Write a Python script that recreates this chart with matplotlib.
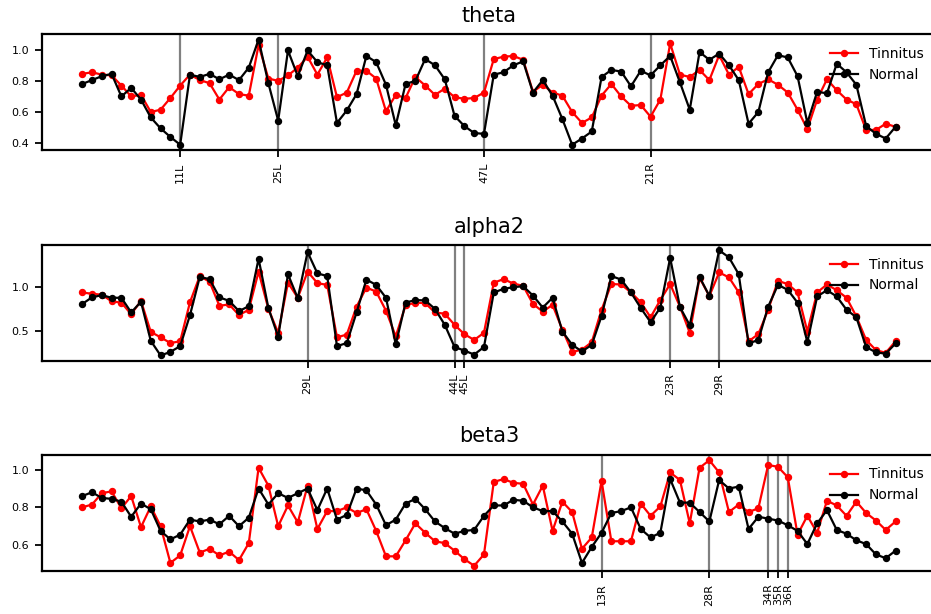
#!/usr/bin/env python

"""
theta / alpha2 / beta3 current density per Brodmann area, tinnitus vs normal
"""

import matplotlib
matplotlib.use('Agg')
import matplotlib.pyplot as plt

# Brodmann areas in sLORETA order, left hemisphere then right
BRODMANN = [1, 2, 3, 4, 5, 6, 7, 8, 9, 10, 11, 13, 17, 18, 19, 20, 21, 22, 23,
            24, 25, 27, 28, 29, 30, 31, 32, 33, 34, 35, 36, 37, 38, 39, 40,
            41, 42, 43, 44, 45, 46, 47]
REGIONS = [f'{b}L' for b in BRODMANN] + [f'{b}R' for b in BRODMANN]

theta_tinnitus = [
    0.845, 0.855, 0.84, 0.835, 0.77, 0.70, 0.71, 0.60, 0.615, 0.69, 0.77,
    0.84, 0.805, 0.785, 0.68, 0.76, 0.715, 0.705, 1.03, 0.815, 0.80, 0.835,
    0.885, 0.955, 0.84, 0.95, 0.695, 0.725, 0.865, 0.865, 0.815, 0.605, 0.71,
    0.69, 0.825, 0.77, 0.71, 0.75, 0.695, 0.685, 0.69, 0.725,
    0.94, 0.955, 0.96, 0.935, 0.73, 0.775, 0.725, 0.705, 0.60, 0.53, 0.565,
    0.705, 0.78, 0.70, 0.64, 0.645, 0.57, 0.68, 1.04, 0.84, 0.825, 0.87,
    0.805, 0.965, 0.84, 0.89, 0.715, 0.78, 0.81, 0.775, 0.725, 0.615, 0.49,
    0.68, 0.81, 0.74, 0.68, 0.65, 0.485, 0.485, 0.525, 0.505]
theta_normal = [
    0.78, 0.805, 0.83, 0.845, 0.70, 0.755, 0.68, 0.565, 0.495, 0.44, 0.39,
    0.84, 0.825, 0.845, 0.81, 0.84, 0.805, 0.885, 1.065, 0.785, 0.545, 0.995,
    0.83, 0.995, 0.92, 0.90, 0.53, 0.61, 0.715, 0.96, 0.92, 0.775, 0.515,
    0.78, 0.80, 0.94, 0.90, 0.81, 0.575, 0.51, 0.465, 0.46,
    0.84, 0.855, 0.90, 0.925, 0.725, 0.805, 0.705, 0.555, 0.39, 0.43, 0.475,
    0.825, 0.87, 0.86, 0.765, 0.865, 0.835, 0.90, 0.96, 0.79, 0.615, 0.985,
    0.935, 0.975, 0.90, 0.805, 0.525, 0.60, 0.855, 0.965, 0.95, 0.83, 0.53,
    0.73, 0.72, 0.91, 0.855, 0.775, 0.51, 0.46, 0.43, 0.505]
theta_marks = ['11L', '25L', '47L', '21R']

alpha2_tinnitus = [
    0.935, 0.92, 0.91, 0.835, 0.82, 0.69, 0.84, 0.49, 0.43, 0.365, 0.385,
    0.825, 1.12, 1.055, 0.785, 0.80, 0.68, 0.74, 1.17, 0.75, 0.48, 1.045,
    0.875, 1.17, 1.04, 1.02, 0.43, 0.46, 0.775, 0.99, 0.945, 0.73, 0.44,
    0.79, 0.82, 0.815, 0.71, 0.695, 0.57, 0.465, 0.40, 0.48,
    1.045, 1.085, 1.035, 1.01, 0.805, 0.72, 0.795, 0.515, 0.265, 0.29, 0.375,
    0.74, 1.03, 1.025, 0.935, 0.825, 0.655, 0.85, 1.03, 0.775, 0.48, 1.10,
    0.895, 1.16, 1.105, 0.935, 0.385, 0.465, 0.74, 1.065, 1.03, 0.935, 0.495,
    0.935, 1.025, 0.96, 0.875, 0.665, 0.40, 0.285, 0.255, 0.385]
alpha2_normal = [
    0.805, 0.88, 0.905, 0.875, 0.875, 0.71, 0.83, 0.39, 0.225, 0.265, 0.33,
    0.68, 1.11, 1.085, 0.88, 0.84, 0.725, 0.78, 1.315, 0.76, 0.435, 1.14,
    0.87, 1.39, 1.15, 1.12, 0.33, 0.365, 0.71, 1.08, 1.02, 0.875, 0.35,
    0.82, 0.85, 0.845, 0.75, 0.57, 0.32, 0.28, 0.235, 0.32,
    0.935, 0.975, 0.995, 1.005, 0.90, 0.765, 0.875, 0.495, 0.345, 0.27, 0.345,
    0.67, 1.12, 1.08, 0.935, 0.76, 0.60, 0.765, 1.325, 0.77, 0.565, 1.11,
    0.895, 1.41, 1.33, 1.14, 0.36, 0.40, 0.775, 1.02, 0.965, 0.82, 0.375,
    0.89, 0.96, 0.89, 0.74, 0.655, 0.32, 0.26, 0.245, 0.36]
alpha2_marks = ['29L', '44L', '45L', '23R', '29R']

beta3_tinnitus = [
    0.80, 0.815, 0.875, 0.885, 0.795, 0.86, 0.695, 0.805, 0.70, 0.505, 0.545,
    0.70, 0.56, 0.58, 0.545, 0.565, 0.52, 0.61, 1.01, 0.915, 0.70, 0.81,
    0.72, 0.915, 0.685, 0.78, 0.78, 0.80, 0.77, 0.79, 0.675, 0.54, 0.54,
    0.625, 0.715, 0.665, 0.62, 0.61, 0.57, 0.525, 0.49, 0.55,
    0.935, 0.95, 0.93, 0.925, 0.815, 0.915, 0.675, 0.83, 0.775, 0.58, 0.64,
    0.94, 0.62, 0.62, 0.62, 0.82, 0.755, 0.805, 0.985, 0.945, 0.715, 1.01,
    1.05, 0.985, 0.775, 0.815, 0.775, 0.795, 1.025, 1.015, 0.96, 0.655, 0.755,
    0.665, 0.835, 0.81, 0.755, 0.83, 0.77, 0.73, 0.68, 0.725]
beta3_normal = [
    0.86, 0.88, 0.85, 0.845, 0.83, 0.75, 0.82, 0.79, 0.675, 0.63, 0.655,
    0.735, 0.725, 0.735, 0.71, 0.755, 0.70, 0.745, 0.90, 0.815, 0.875, 0.85,
    0.875, 0.90, 0.785, 0.90, 0.735, 0.76, 0.90, 0.89, 0.815, 0.705, 0.735,
    0.82, 0.845, 0.79, 0.725, 0.69, 0.66, 0.675, 0.68, 0.755,
    0.81, 0.81, 0.84, 0.835, 0.80, 0.78, 0.78, 0.725, 0.66, 0.505, 0.59,
    0.665, 0.77, 0.78, 0.80, 0.685, 0.64, 0.665, 0.95, 0.825, 0.825, 0.775,
    0.725, 0.945, 0.90, 0.91, 0.685, 0.75, 0.74, 0.73, 0.705, 0.675, 0.605,
    0.715, 0.785, 0.68, 0.66, 0.625, 0.605, 0.55, 0.53, 0.57]
beta3_marks = ['13R', '28R', '34R', '35R', '36R']

PANELS = [
    ('theta', theta_tinnitus, theta_normal, theta_marks),
    ('alpha2', alpha2_tinnitus, alpha2_normal, alpha2_marks),
    ('beta3', beta3_tinnitus, beta3_normal, beta3_marks),
]

# axes boxes in figure fraction; right edge runs past the figure like the original crop
BOXES = [
    [0.0446, 0.7557, 0.961, 0.1884],
    [0.0446, 0.4125, 0.961, 0.1884],
    [0.0446, 0.0700, 0.961, 0.1890],
]


def draw_panel(ax, title, tinnitus, normal, marks):
    x = list(range(len(REGIONS)))
    ax.plot(x, tinnitus, color='red', marker='o', markersize=4.3, lw=1.6,
            label='Tinnitus', zorder=3)
    ax.plot(x, normal, color='black', marker='o', markersize=4.3, lw=1.6,
            label='Normal', zorder=3)

    pos = [REGIONS.index(m) for m in marks]
    for p in pos:
        ax.axvline(p, color='#808080', lw=1.6, zorder=1)
    ax.set_xticks(pos, marks, rotation=90, fontsize=7.5)

    ax.set_title(title, fontsize=15, pad=9)
    ax.legend(loc='upper right', frameon=False, fontsize=10)

    for s in ax.spines.values():
        s.set_linewidth(1.6)
    ax.tick_params(axis='both', length=5, width=1.3, labelsize=8, pad=4)


def main():
    fig = plt.figure(figsize=(9.31, 6.14), dpi=100)
    for box, (title, tin, nor, marks) in zip(BOXES, PANELS):
        ax = fig.add_axes(box)
        draw_panel(ax, title, tin, nor, marks)
    fig.savefig('out.png', dpi=100, facecolor='w')


if __name__ == "__main__":
    main()
